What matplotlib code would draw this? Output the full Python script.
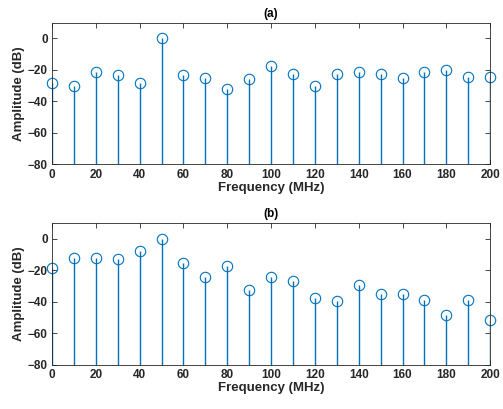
import matplotlib
matplotlib.use('Agg')
import matplotlib.pyplot as plt

freq = [0, 10, 20, 30, 40, 50, 60, 70, 80, 90, 100, 110, 120, 130, 140, 150, 160, 170, 180, 190, 200]
amp_a = [-28.4, -30.1, -21.3, -22.9, -28.2, 0.0, -22.9, -25.1, -32.2, -25.5, -17.7,
         -22.5, -29.9, -22.5, -21.5, -22.5, -25.3, -21.1, -20.2, -24.6, -24.6]
amp_b = [-18.5, -12.4, -12.2, -12.8, -7.6, 0.0, -15.4, -24.6, -17.5, -32.8, -24.4,
         -27.2, -37.7, -39.4, -29.5, -34.9, -35.4, -38.9, -48.2, -39.2, -51.8]
titles = ['(a)', '(b)']

plt.rcParams['font.family'] = ['Liberation Sans', 'DejaVu Sans']
plt.rcParams['font.weight'] = 'bold'
plt.rcParams['font.size'] = 8.5

fig = plt.figure(figsize=(5.03, 4.09), dpi=100)
axes = [fig.add_axes([0.1034, 0.598, 0.871, 0.3465]),
        fig.add_axes([0.1034, 0.1083, 0.871, 0.347])]

for ax, amp, title in zip(axes, [amp_a, amp_b], titles):
    c = '#0072BD'
    ax.vlines(freq, -80, amp, color=c, lw=1.0)
    ax.plot(freq, amp, 'o', mfc='none', mec=c, ms=7.5, mew=0.8, clip_on=False)
    ax.set_xlim(0, 200)
    ax.set_ylim(-80, 10)
    ax.set_xticks(range(0, 201, 20))
    ax.set_yticks([-80, -60, -40, -20, 0])
    ax.tick_params(direction='in', top=True, right=True, length=3.5, width=0.6,
                   colors='#262626', labelcolor='#262626', pad=3)
    for s in ax.spines.values():
        s.set_linewidth(0.6)
        s.set_color('#262626')
    ax.set_xlabel('Frequency (MHz)', fontweight='bold', fontsize=9.5, color='#262626', labelpad=1)
    ax.set_ylabel('Amplitude (dB)', fontweight='bold', fontsize=9.5, color='#262626', labelpad=2)
    ax.set_title(title, fontweight='bold', fontsize=8.5, pad=4)

fig.savefig('out.png', dpi=100)
